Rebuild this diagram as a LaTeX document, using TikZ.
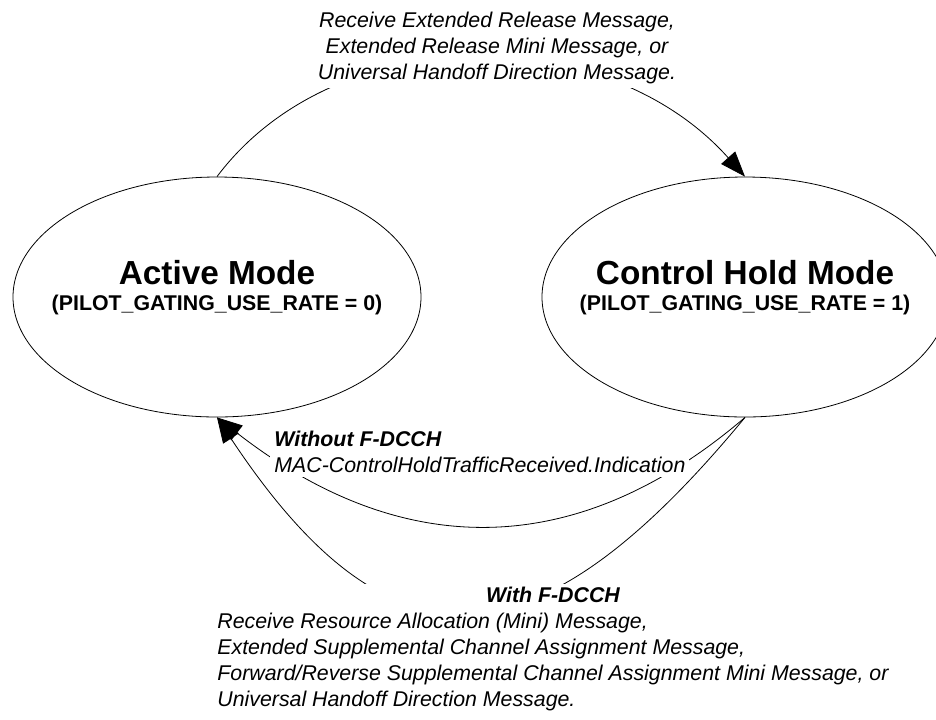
\documentclass[tikz,border=0pt]{standalone}
\usepackage{fontspec}
\setmainfont{Liberation Sans}
\usepackage{tikz}
\usetikzlibrary{arrows.meta,shapes.geometric}

\begin{document}
\begin{tikzpicture}[x=0.75pt, y=-0.75pt, line width=0.6pt, font=\fontsize{16}{19.5}\selectfont]
\tikzstyle{mode}=[draw, ellipse, align=center, inner ysep=0pt, inner xsep=-20pt, minimum height=180pt, font=\fontsize{16}{19.5}\selectfont\bfseries]
\tikzstyle{cond}=[fill=white, inner sep=3pt, font=\fontsize{16}{19.5}\selectfont\itshape]
\tikzstyle{trans}=[-{Triangle[length=19pt, width=14pt]}]
\useasboundingbox (0,0) rectangle (936,719);
\node[mode, minimum width=306pt] (active) at (217,297) {{\fontsize{25}{30}\selectfont Active Mode}\\(PILOT\_GATING\_USE\_RATE = 0)\rule[-18pt]{0pt}{0pt}};
\node[mode, minimum width=304.5pt] (hold) at (745,297) {{\fontsize{25}{30}\selectfont Control Hold Mode}\\(PILOT\_GATING\_USE\_RATE = 1)\rule[-18pt]{0pt}{0pt}};
\draw[trans] (active.north) .. controls +(118,-157) and +(-140,-157) .. (hold.north);
\draw[trans] (hold.south) .. controls +(-168,144) and +(185,144) .. (active.south);
\draw[trans] (hold.south) .. controls +(-209,253) and +(174,263) .. (active.south);
\node[cond, align=center] (release) at (497,48) {Receive Extended Release Message,\\Extended Release Mini Message, or\\Universal Handoff Direction Message.};
\node[cond, align=left, anchor=west] (nodcch) at (270,452) {{\bfseries Without F-DCCH}\\MAC-ControlHoldTrafficReceived.Indication};
\node[cond, anchor=west, inner sep=0pt] (dcch) at (217,649) {\begin{tabular}{@{}l@{}}\multicolumn{1}{@{}c@{}}{\bfseries With F-DCCH}\\Receive Resource Allocation (Mini) Message,\\Extended Supplemental Channel Assignment Message,\\Forward/Reverse Supplemental Channel Assignment Mini Message, or\\Universal Handoff Direction Message.\end{tabular}};
\end{tikzpicture}
\end{document}
